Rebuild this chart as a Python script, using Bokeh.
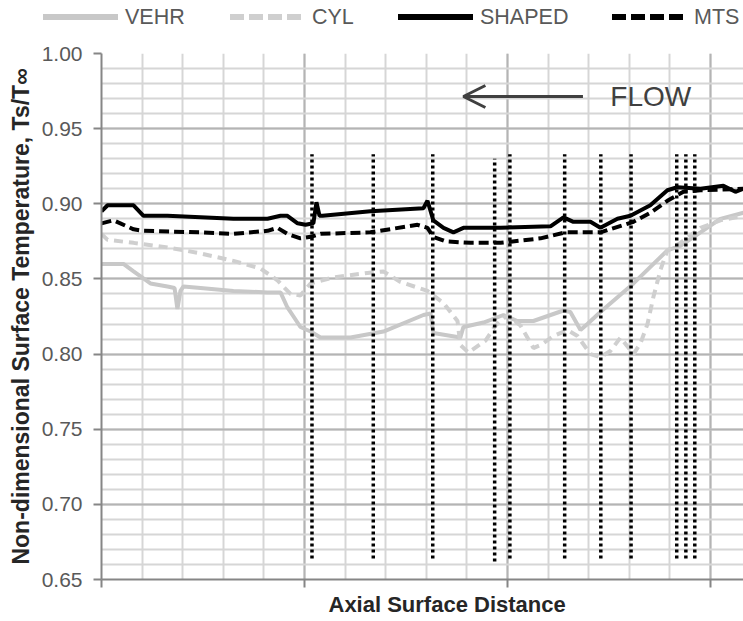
from bokeh.plotting import figure
from bokeh.layouts import column
from bokeh.models import (Range1d, SingleIntervalTicker, PrintfTickFormatter, Label, Arrow,
                          OpenHead, Title, Div)
from bokeh.embed import file_html
from bokeh.resources import INLINE

# ---------------- data ----------------
shaped_x = [0, 0.030, 0.158, 0.207, 0.325, 0.488, 0.650, 0.818, 0.882, 0.916, 0.966, 1.005, 1.044,
            1.059, 1.074, 1.089, 1.325, 1.586, 1.606, 1.635, 1.685, 1.734, 1.783, 1.966, 2.212,
            2.276, 2.325, 2.409, 2.458, 2.542, 2.606, 2.704, 2.788, 2.837, 2.951, 3.064, 3.123, 3.163]
shaped_y = [0.895, 0.899, 0.899, 0.892, 0.892, 0.891, 0.890, 0.890, 0.892, 0.892, 0.887, 0.886, 0.887,
            0.901, 0.892, 0.892, 0.895, 0.897, 0.902, 0.889, 0.884, 0.881, 0.884, 0.884, 0.885,
            0.891, 0.888, 0.888, 0.884, 0.890, 0.892, 0.899, 0.909, 0.911, 0.910, 0.912, 0.908, 0.910]

mts_x = [0, 0.059, 0.158, 0.207, 0.488, 0.650, 0.818, 0.867, 0.916, 0.980, 1.030, 1.079, 1.325,
         1.557, 1.606, 1.635, 1.695, 1.818, 1.966, 2.163, 2.286, 2.458, 2.621, 2.704, 2.788,
         2.867, 2.951, 3.163]
mts_y = [0.887, 0.889, 0.883, 0.882, 0.881, 0.880, 0.882, 0.884, 0.880, 0.877, 0.878, 0.880, 0.881,
         0.886, 0.884, 0.878, 0.875, 0.874, 0.874, 0.877, 0.881, 0.881, 0.888, 0.894, 0.902,
         0.908, 0.909, 0.910]

vehr_x = [0, 0.108, 0.158, 0.241, 0.325, 0.360, 0.374, 0.389, 0.404, 0.488, 0.650, 0.818, 0.882,
          0.916, 0.946, 0.980, 1.030, 1.079, 1.227, 1.389, 1.586, 1.621, 1.635, 1.768, 1.783,
          1.882, 1.980, 2.049, 2.128, 2.276, 2.310, 2.360, 2.394, 2.458, 2.621, 2.788, 2.852,
          2.951, 3.049, 3.163]
vehr_y = [0.860, 0.860, 0.855, 0.847, 0.845, 0.844, 0.830, 0.842, 0.845, 0.844, 0.842, 0.841, 0.841,
          0.831, 0.825, 0.818, 0.815, 0.811, 0.811, 0.815, 0.826, 0.827, 0.814, 0.811, 0.818,
          0.821, 0.826, 0.822, 0.822, 0.829, 0.828, 0.816, 0.820, 0.828, 0.847, 0.869, 0.872,
          0.881, 0.890, 0.894]

cyl_x = [0, 0.030, 0.158, 0.325, 0.488, 0.650, 0.783, 0.867, 0.931, 0.980, 1.030, 1.143, 1.310,
         1.389, 1.473, 1.606, 1.685, 1.754, 1.768, 1.808, 1.892, 1.941, 2.000, 2.064, 2.128,
         2.163, 2.227, 2.296, 2.345, 2.409, 2.458, 2.507, 2.557, 2.621, 2.655, 2.690, 2.719,
         2.754, 2.788, 2.852, 2.951, 3.049, 3.163]
cyl_y = [0.880, 0.876, 0.874, 0.871, 0.867, 0.862, 0.857, 0.849, 0.840, 0.839, 0.847, 0.851, 0.854,
         0.855, 0.848, 0.842, 0.834, 0.822, 0.806, 0.801, 0.809, 0.819, 0.826, 0.819, 0.804,
         0.806, 0.812, 0.816, 0.812, 0.800, 0.798, 0.802, 0.811, 0.800, 0.807, 0.820, 0.838,
         0.856, 0.869, 0.874, 0.884, 0.889, 0.892]

marker_x = [1.037, 1.339, 1.632, 1.937, 2.012, 2.282, 2.460, 2.609, 2.834, 2.879, 2.923]
marker_top = [0.933, 0.933, 0.933, 0.930, 0.933, 0.933, 0.933, 0.933, 0.933, 0.933, 0.933]
marker_bottom = [0.664, 0.664, 0.664, 0.662, 0.664, 0.664, 0.664, 0.664, 0.664, 0.664, 0.664]

series_names = ["VEHR", "CYL", "SHAPED", "MTS"]
series_colors = ["#c8c8c8", "#cfcfcf", "black", "black"]
series_dash = ["solid", "9 6", "solid", "10 5"]
flow_text = "FLOW"
flow_arrow = (2.372, 1.783, 0.9714)

FONT = "Liberation Sans"
LEG_H = 36

# ---------------- legend strip (above the chart, as in the original) ----------------
legend_slots = [43, 230, 398, 612]       # left edge of each legend sample, px
legend_dash = ["", "14 5", "", "14 5"]
parts = ['<svg xmlns="http://www.w3.org/2000/svg" width="743" height="%d" style="display:block">' % LEG_H]
for name, col, dash, x0 in zip(series_names, series_colors, legend_dash, legend_slots):
    da = ' stroke-dasharray="%s"' % dash if dash else ""
    parts.append('<line x1="%d" y1="17" x2="%d" y2="17" stroke="%s" stroke-width="6"%s/>'
                 % (x0, x0 + 75, col, da))
    parts.append('<text x="%d" y="17" dominant-baseline="central" font-family="%s" '
                 'font-size="21.5" fill="#595959">%s</text>' % (x0 + 82, FONT, name))
parts.append('</svg>')
legend_div = Div(text="".join(parts), width=743, height=LEG_H, margin=0)

# ---------------- main chart ----------------
p = figure(width=743, height=621 - LEG_H, output_backend="svg", toolbar_location=None,
           x_range=Range1d(0, 3.163), y_range=Range1d(0.65, 1.00),
           min_border_left=101, min_border_right=0, min_border_top=53 - LEG_H, min_border_bottom=42)
p.outline_line_color = None
p.background_fill_color = "white"

p.xaxis.ticker = SingleIntervalTicker(interval=1, num_minor_ticks=5)
p.yaxis.ticker = SingleIntervalTicker(interval=0.05, num_minor_ticks=5)
p.yaxis.formatter = PrintfTickFormatter(format="%.2f")
p.xaxis.major_label_text_font_size = "0px"
p.xaxis.major_label_text_color = None
for ax in (p.xaxis, p.yaxis):
    ax.axis_line_color = "#868686"
    ax.axis_line_width = 2
    ax.major_tick_line_color = "#868686"
    ax.major_tick_line_width = 2
    ax.major_tick_out = 8
    ax.major_tick_in = 0
    ax.minor_tick_line_color = None
p.yaxis.major_label_text_font = FONT
p.yaxis.major_label_text_font_size = "21px"
p.yaxis.major_label_text_color = "#595959"
p.yaxis.major_label_standoff = 11
p.yaxis.axis_label = "Non-dimensional Surface Temperature, Ts/T\u221e"
p.yaxis.axis_label_text_font = FONT
p.yaxis.axis_label_text_font_style = "bold"
p.yaxis.axis_label_text_font_size = "23px"
p.yaxis.axis_label_text_color = "#262626"
p.yaxis.axis_label_standoff = 5

for g in (p.xgrid, p.ygrid):
    g.grid_line_color = "#b4b4b4"
    g.grid_line_width = 2
    g.minor_grid_line_color = "#d6d6d6"
    g.minor_grid_line_width = 2

p.line(vehr_x, vehr_y, line_color=series_colors[0], line_width=4)
p.line(cyl_x, cyl_y, line_color=series_colors[1], line_width=4, line_dash=series_dash[1])
p.line(mts_x, mts_y, line_color=series_colors[3], line_width=4, line_dash=series_dash[3])
p.line(shaped_x, shaped_y, line_color=series_colors[2], line_width=4)

p.segment(x0=marker_x, y0=marker_bottom, x1=marker_x, y1=marker_top,
          line_color="black", line_width=3.5, line_dash="3 3")

p.add_layout(Arrow(x_start=flow_arrow[0], x_end=flow_arrow[1], y_start=flow_arrow[2], y_end=flow_arrow[2],
                   line_color="#404040", line_width=3,
                   end=OpenHead(size=22, line_color="#404040", line_width=3)))
p.add_layout(Label(x=2.507, y=flow_arrow[2], text=flow_text, text_font=FONT, text_font_size="28px",
                   text_color="#404040", text_baseline="middle", text_align="left"))

p.add_layout(Title(text="Axial Surface Distance", align="left", offset=227,
                   text_font=FONT, text_font_style="bold", text_font_size="22px",
                   text_color="#262626", standoff=4), "below")

layout = column(legend_div, p, spacing=0)
open("out.html", "w").write(file_html(layout, INLINE))
